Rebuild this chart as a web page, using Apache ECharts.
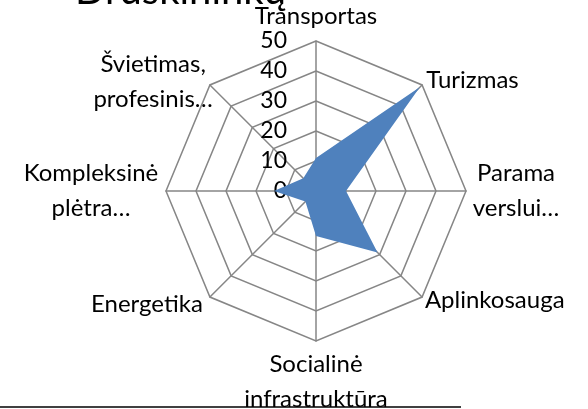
<!DOCTYPE html>
<html><head><meta charset="utf-8">
<script src="https://cdn.jsdelivr.net/npm/echarts@6/dist/echarts.min.js"></script>
<style>html,body{margin:0;padding:0;background:#fff}#c{width:588px;height:409px}</style>
</head><body><div id="c"></div>
<script>
var titleText = 'Druskininkų';
var categories = ['Transportas','Turizmas','Parama\nverslui…','Aplinkosauga','Socialinė\ninfrastruktūra','Energetika','Kompleksinė\nplėtra…','Švietimas,\nprofesinis…'];
var values = [11, 49, 10, 29, 15, 5, 14, 6];
var axisMin = 0, axisMax = 50, axisStep = 10;

var FONT = 'Lato';
var FS = 24;
// per-category name placement (style only)
var nameStyles = [
  {gap: 6, align: 'center', va: 'bottom', lh: 26},
  {gap: 6, align: 'left', va: 'middle'},
  {gap: 50, align: 'center', va: 'middle'},
  {gap: 4, align: 'left', va: 'middle'},
  {gap: 6, align: 'center', va: 'top'},
  {gap: 10, align: 'right', va: 'middle'},
  {gap: 75, align: 'center', va: 'middle'},
  {gap: 4, align: 'center', va: 'middle', padding: [0, 108, 0, 0]}
];
// ECharts radar goes counter-clockwise; reference goes clockwise
var order = [0, 7, 6, 5, 4, 3, 2, 1];
var indicators = order.map(function (i, k) {
  var s = nameStyles[i];
  var ind = {
    name: categories[i], min: axisMin, max: axisMax,
    nameGap: s.gap,
    nameTextStyle: {align: s.align, verticalAlign: s.va, color: '#000', fontFamily: FONT, fontSize: FS, lineHeight: s.lh || 35, padding: s.padding || 0}
  };
  if (k === 0) ind.axisLabel = {show: true, color: '#000', fontFamily: FONT, fontSize: 23, margin: 29, align: 'right', verticalAlign: 'middle'};
  return ind;
});
var ordered = order.map(function (i) { return values[i]; });

var chart = echarts.init(document.getElementById('c'), null, {renderer: 'canvas'});
chart.setOption({
  animation: false,
  title: {text: titleText, left: 70, top: -34, textStyle: {fontFamily: FONT, fontSize: 40, fontWeight: 'normal', color: '#000'}},
  radar: {
    center: [316, 191], radius: 150, startAngle: 90, shape: 'polygon',
    splitNumber: (axisMax - axisMin) / axisStep,
    axisName: {color: '#000', fontFamily: FONT, fontSize: FS},
    axisLine: {show: true, lineStyle: {color: '#868686', width: 1.5}},
    splitLine: {show: true, lineStyle: {color: '#868686', width: 1.5}},
    splitArea: {show: false},
    axisTick: {show: false},
    axisLabel: {show: false},
    indicator: indicators
  },
  series: [{
    type: 'radar', symbol: 'none',
    lineStyle: {width: 0},
    areaStyle: {color: '#4F81BD', opacity: 1},
    data: [{value: ordered}]
  }],
  graphic: [{type: 'line', shape: {x1: 0, y1: 407, x2: 461, y2: 407}, style: {stroke: '#000', lineWidth: 1.5}}]
});
</script></body></html>
